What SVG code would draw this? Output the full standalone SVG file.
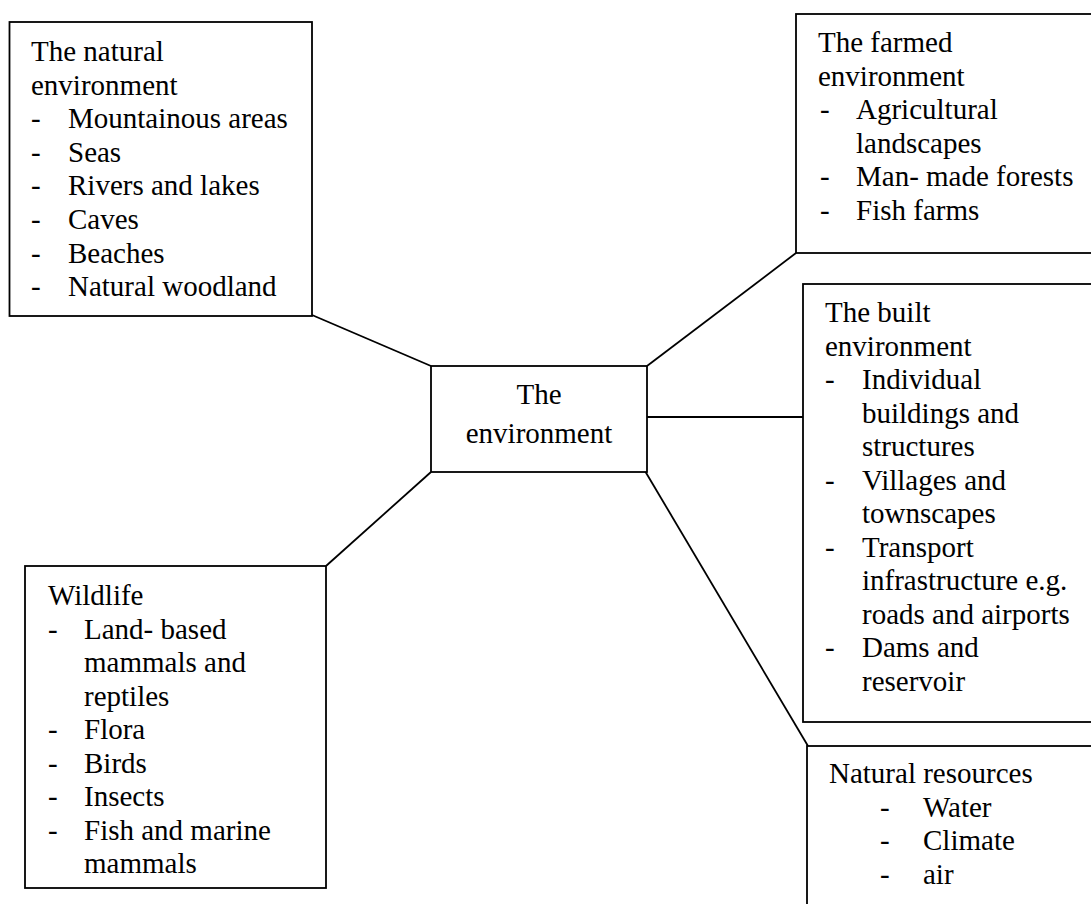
<svg xmlns="http://www.w3.org/2000/svg" width="1091" height="904" viewBox="0 0 1091 904">
<style>
.box{fill:#fff;stroke:#000;stroke-width:1.8}
.conn{stroke:#000;stroke-width:1.8;fill:none}
text{font-family:"Liberation Serif","Times New Roman",serif;font-size:29px;fill:#000}
.c{text-anchor:middle}
</style>
<rect width="1091" height="904" fill="#fff"/>
<g id="connectors">
<line class="conn" x1="312" y1="315" x2="431" y2="366"/>
<line class="conn" x1="647" y1="366" x2="796" y2="253"/>
<line class="conn" x1="647" y1="417" x2="807" y2="417"/>
<line class="conn" x1="645" y1="471" x2="808" y2="746"/>
<line class="conn" x1="326" y1="566" x2="431" y2="472"/>
</g>
<g id="center">
<rect class="box" x="431" y="366" width="216" height="106"/>
<text class="c" x="539" y="404">The</text>
<text class="c" x="539" y="443">environment</text>
</g>
<g id="natural">
<rect class="box" x="9.5" y="22" width="302.5" height="294"/>
<text x="31" y="61">The natural</text>
<text x="31" y="94.6">environment</text>
<text x="31" y="128.2">-</text><text x="68" y="128.2">Mountainous areas</text>
<text x="31" y="161.8">-</text><text x="68" y="161.8">Seas</text>
<text x="31" y="195.4">-</text><text x="68" y="195.4">Rivers and lakes</text>
<text x="31" y="229">-</text><text x="68" y="229">Caves</text>
<text x="31" y="262.6">-</text><text x="68" y="262.6">Beaches</text>
<text x="31" y="296.2">-</text><text x="68" y="296.2">Natural woodland</text>
</g>
<g id="farmed">
<rect class="box" x="796" y="14" width="310" height="239"/>
<text x="818" y="52">The farmed</text>
<text x="818" y="85.5">environment</text>
<text x="820" y="119">-</text><text x="856" y="119">Agricultural</text>
<text x="856" y="152.5">landscapes</text>
<text x="820" y="186">-</text><text x="856" y="186">Man- made forests</text>
<text x="820" y="219.5">-</text><text x="856" y="219.5">Fish farms</text>
</g>
<g id="built">
<rect class="box" x="803" y="284" width="310" height="438"/>
<text x="825" y="322">The built</text>
<text x="825" y="355.5">environment</text>
<text x="825" y="389">-</text><text x="862" y="389">Individual</text>
<text x="862" y="422.5">buildings and</text>
<text x="862" y="456">structures</text>
<text x="825" y="489.5">-</text><text x="862" y="489.5">Villages and</text>
<text x="862" y="523">townscapes</text>
<text x="825" y="556.5">-</text><text x="862" y="556.5">Transport</text>
<text x="862" y="590">infrastructure e.g.</text>
<text x="862" y="623.5">roads and airports</text>
<text x="825" y="657">-</text><text x="862" y="657">Dams and</text>
<text x="862" y="690.5">reservoir</text>
</g>
<g id="wildlife">
<rect class="box" x="25" y="566" width="301" height="322"/>
<text x="48" y="605">Wildlife</text>
<text x="48" y="638.5">-</text><text x="84" y="638.5">Land- based</text>
<text x="84" y="672">mammals and</text>
<text x="84" y="705.5">reptiles</text>
<text x="48" y="739">-</text><text x="84" y="739">Flora</text>
<text x="48" y="772.5">-</text><text x="84" y="772.5">Birds</text>
<text x="48" y="806">-</text><text x="84" y="806">Insects</text>
<text x="48" y="839.5">-</text><text x="84" y="839.5">Fish and marine</text>
<text x="84" y="873">mammals</text>
</g>
<g id="resources">
<rect class="box" x="807" y="746" width="310" height="200"/>
<text x="829" y="783">Natural resources</text>
<text x="880" y="816.5">-</text><text x="923" y="816.5">Water</text>
<text x="880" y="850">-</text><text x="923" y="850">Climate</text>
<text x="880" y="883.5">-</text><text x="923" y="883.5">air</text>
</g>
</svg>
